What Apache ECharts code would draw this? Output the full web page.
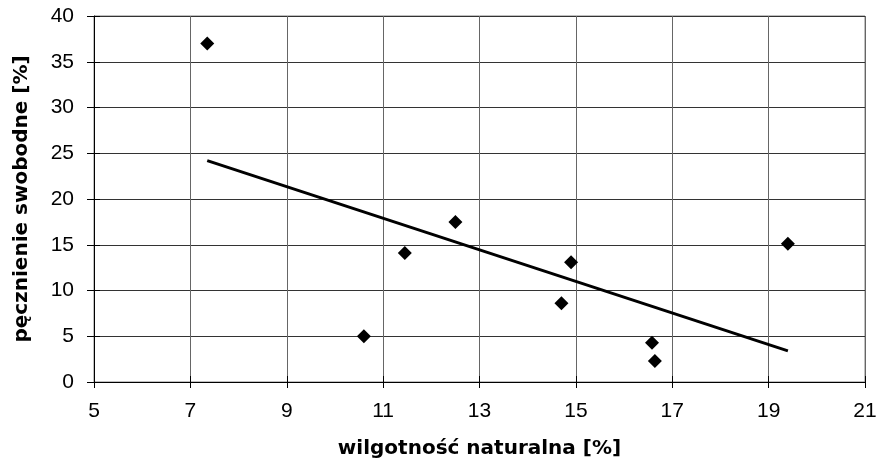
<!DOCTYPE html>
<html><head><meta charset="utf-8">
<script src="https://cdn.jsdelivr.net/npm/echarts@6/dist/echarts.min.js"></script>
<style>html,body{margin:0;padding:0;background:#fff}#c{width:880px;height:475px}</style>
</head><body><div id="c"></div>
<script>
const moisture = [7.35, 10.6, 11.45, 12.5, 14.7, 14.9, 16.58, 16.64, 19.4];
const swelling = [37.0, 5.0, 14.1, 17.5, 8.6, 13.1, 4.3, 2.3, 15.1];
const trendX = [7.35, 19.4];
const trendY = [24.2, 3.4];
const xTitle = 'wilgotność naturalna [%]';
const yTitle = 'pęcznienie swobodne [%]';

const chart = echarts.init(document.getElementById('c'), null, {renderer: 'canvas'});
const tickFont = {fontFamily: '"Liberation Sans", Arial, sans-serif', fontSize: 21, color: '#000'};
const titleFont = {fontFamily: '"DejaVu Sans", sans-serif', fontSize: 20, fontWeight: 'bold', color: '#000'};
chart.setOption({
  animation: false,
  backgroundColor: '#fff',
  grid: {left: 94, right: 15, top: 16, bottom: 93, show: true, borderColor: '#808080', borderWidth: 1},
  xAxis: [{
    type: 'value', min: 5, max: 21, interval: 2,
    name: xTitle, nameLocation: 'middle', nameGap: 57,
    nameTextStyle: titleFont,
    axisLine: {show: true, onZero: false, lineStyle: {color: '#000', width: 1}},
    axisTick: {show: true, length: 6, lineStyle: {color: '#000'}},
    axisLabel: Object.assign({margin: 19}, tickFont),
    splitLine: {show: true, lineStyle: {color: '#666', width: 1}}
  }, {
    type: 'value', min: 5, max: 21, interval: 2, position: 'bottom',
    axisLine: {show: false}, axisLabel: {show: false}, splitLine: {show: false},
    axisTick: {show: true, inside: true, length: 6, lineStyle: {color: '#000'}}
  }],
  yAxis: [{
    type: 'value', min: 0, max: 40, interval: 5,
    name: yTitle, nameLocation: 'middle', nameGap: 62, nameRotate: 90,
    nameTextStyle: titleFont,
    axisLine: {show: true, lineStyle: {color: '#000', width: 1}},
    axisTick: {show: true, length: 7, lineStyle: {color: '#000'}},
    axisLabel: Object.assign({margin: 20}, tickFont),
    splitLine: {show: true, lineStyle: {color: '#333', width: 1}}
  }, {
    type: 'value', min: 0, max: 40, interval: 5, position: 'left',
    axisLine: {show: false}, axisLabel: {show: false}, splitLine: {show: false},
    axisTick: {show: true, inside: true, length: 6, lineStyle: {color: '#000'}}
  }],
  series: [
    {
      type: 'line', data: trendX.map((x, i) => [x, trendY[i]]),
      showSymbol: false, symbol: 'none',
      lineStyle: {color: '#000', width: 3}, z: 2
    },
    {
      type: 'scatter', data: moisture.map((x, i) => [x, swelling[i]]),
      symbol: 'diamond', symbolSize: 14,
      itemStyle: {color: '#000', opacity: 1}, z: 3
    }
  ]
});
</script></body></html>
